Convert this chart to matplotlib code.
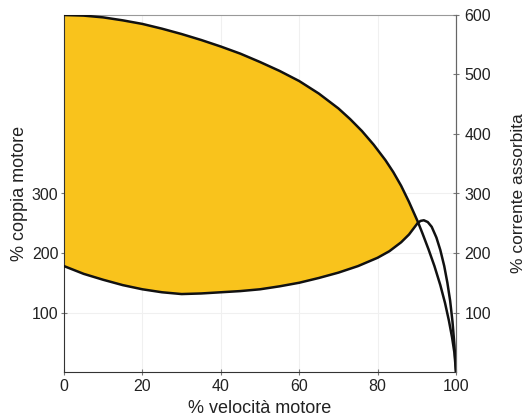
import matplotlib.pyplot as plt

# current curve (% corrente assorbita), from 600% at standstill down to 0 at synchronous speed
current_speed = [0, 5, 10, 15, 20, 25, 30, 35, 40, 45, 50, 55, 60, 65, 70, 73, 76, 79, 82, 84, 86, 88,
                 90.3, 91.5, 93, 94.5, 96, 97.2, 98.2, 99, 99.6, 100]
current_val = [600, 599, 596, 591, 585, 577, 568, 558, 547, 535, 521, 506, 489, 468, 443, 425, 405, 382,
               356, 336, 313, 286, 252, 232, 206, 178, 146, 116, 86, 58, 32, 0]

# torque curve (% coppia motore)
torque_speed = [0, 5, 10, 15, 20, 25, 30, 35, 40, 45, 50, 55, 60, 65, 70, 75, 80, 83, 86, 88, 90.3,
                91, 91.8, 92.8, 93.8, 95, 96, 97, 97.8, 98.5, 99.1, 99.6, 100]
torque_val = [178, 165, 155, 146, 139, 134, 131, 132, 134, 136, 139, 144, 150, 158, 167, 178, 192, 203,
              218, 231, 251, 254, 255, 252, 244, 226, 205, 178, 150, 120, 85, 45, 0]

x_ticks = [0, 20, 40, 60, 80, 100]
left_ticks = [100, 200, 300]
right_ticks = [100, 200, 300, 400, 500, 600]

plt.rcParams['font.family'] = ['Liberation Sans', 'DejaVu Sans']

fig = plt.figure(figsize=(5.28, 4.19), dpi=100)
ax = fig.add_axes([64 / 528, 1 - 372 / 419, 392 / 528, 357 / 419])

# yellow area between the two curves, up to where they cross
n = current_speed.index(90.3)
m = torque_speed.index(90.3)
poly_x = current_speed[:n + 1] + torque_speed[:m + 1][::-1]
poly_y = current_val[:n + 1] + torque_val[:m + 1][::-1]
ax.fill(poly_x, poly_y, color='#F9C31C', lw=0, zorder=1)

ax.plot(current_speed, current_val, color='#111111', lw=1.8, zorder=3,
        solid_capstyle='round', solid_joinstyle='round')
ax.plot(torque_speed, torque_val, color='#111111', lw=1.8, zorder=3,
        solid_capstyle='round', solid_joinstyle='round')

ax.set_xlim(0, 100)
ax.set_ylim(0, 600)
ax.set_xticks(x_ticks)
ax.set_yticks(left_ticks)
ax.grid(True, color='#f0f0f0', lw=0.8, zorder=0)
ax.set_axisbelow(True)

ax.spines['top'].set_color('#999999')
ax.spines['right'].set_color('#666666')
ax.spines['left'].set_color('#333333')
ax.spines['bottom'].set_color('#333333')
ax.tick_params(axis='both', direction='inout', length=4, width=0.8, color='#777777',
               labelsize=11.5, colors='#222222')
ax.tick_params(axis='x', pad=3)
ax.tick_params(axis='y', pad=2)

ax.set_xlabel('% velocità motore', fontsize=13, color='#222222', labelpad=4)
ax.set_ylabel('% coppia motore', fontsize=13, color='#222222', labelpad=3)

ax2 = ax.twinx()
ax2.set_ylim(0, 600)
ax2.set_yticks(right_ticks)
ax2.spines['right'].set_color('#666666')
ax2.spines['top'].set_visible(False)
ax2.spines['left'].set_visible(False)
ax2.spines['bottom'].set_visible(False)
ax2.tick_params(axis='y', direction='inout', length=4, width=0.8, color='#777777',
                labelsize=11.5, colors='#222222', pad=4)
ax2.set_ylabel('% corrente assorbita', fontsize=12.5, color='#222222', labelpad=14)

fig.savefig('out.png', dpi=100)
